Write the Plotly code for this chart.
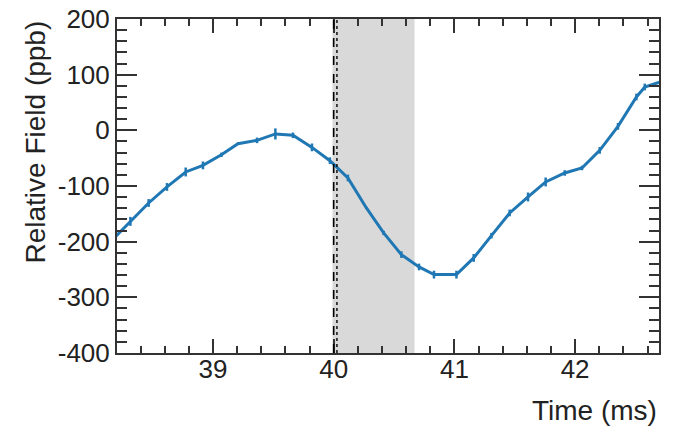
import plotly.graph_objects as go

# ---- data ----
time_ms = [38.165, 38.316, 38.467, 38.619, 38.774, 38.917, 39.070, 39.207, 39.365,
           39.517, 39.663, 39.820, 39.969, 40.118, 40.271, 40.414, 40.561, 40.707,
           40.831, 41.017, 41.160, 41.307, 41.458, 41.610, 41.756, 41.914, 42.057,
           42.204, 42.355, 42.508, 42.577, 42.720]
field_ppb = [-197, -163.5, -130.5, -101.7, -74.8, -63, -44, -24, -18,
             -6.5, -9, -30.6, -54.5, -85.6, -139.4, -184.3, -223.3, -245.4,
             -259.2, -259.2, -229.2, -189.2, -148.4, -119.7, -92.7, -76.6, -67.6,
             -36, 7.1, 59.9, 77.9, 88]
field_err = [6, 8, 7, 7, 8, 7, 4, 2, 5,
             10, 5, 7, 6, 6, 2, 4, 6, 6,
             7, 7, 7, 5, 6, 8, 8, 5, 4,
             6, 6, 6, 6, 6]

t_dashed = 40.0
t_dotted = 40.027
shade_window = [39.99, 40.67]

x_tickvals = [39, 40, 41, 42]
x_ticktext = ["39", "40", "41", "42"]
y_tickvals = [-400, -300, -200, -100, 0, 100, 200]
y_ticktext = ["-400", "-300", "-200", "-100", "0", "100", "200"]

FONT = "Liberation Sans, Arial, sans-serif"
AX = "#333333"
BLUE = "#1f77b4"

fig = go.Figure()
fig.add_trace(go.Scatter(
    x=time_ms, y=field_ppb, mode="lines",
    line=dict(color=BLUE, width=3),
    error_y=dict(type="data", array=field_err, visible=True,
                 color=BLUE, thickness=2.5, width=0),
    showlegend=False,
))

fig.add_shape(type="rect", xref="x", yref="paper",
              x0=shade_window[0], x1=shade_window[1], y0=0, y1=1,
              fillcolor="#d9d9d9", line=dict(width=0), layer="below")
fig.add_shape(type="line", xref="x", yref="paper", x0=t_dashed, x1=t_dashed,
              y0=0, y1=1, line=dict(color="black", width=1.6, dash="dash"))
fig.add_shape(type="line", xref="x", yref="paper", x0=t_dotted, x1=t_dotted,
              y0=0, y1=1, line=dict(color="black", width=1.4, dash="dot"))

fig.update_xaxes(
    range=[38.205, 42.695], tickmode="array", tickvals=x_tickvals, ticktext=x_ticktext,
    ticks="inside", ticklen=14, tickwidth=1.5, tickcolor=AX,
    minor=dict(tickmode="linear", tick0=39, dtick=0.2, ticks="inside",
               ticklen=7, tickwidth=1.5, tickcolor=AX, showgrid=False),
    showline=True, linecolor=AX, linewidth=2, mirror="ticks",
    showgrid=False, zeroline=False, automargin=False, ticklabelstandoff=-8,
    tickfont=dict(family=FONT, size=26, color="#222222"),
)
fig.update_yaxes(
    range=[-400, 200], tickmode="array", tickvals=y_tickvals, ticktext=y_ticktext,
    ticks="inside", ticklen=20, tickwidth=1.5, tickcolor=AX,
    minor=dict(tickmode="linear", tick0=0, dtick=20, ticks="inside",
               ticklen=10, tickwidth=1.5, tickcolor=AX, showgrid=False),
    showline=True, linecolor=AX, linewidth=2, mirror="ticks",
    showgrid=False, zeroline=False, automargin=False,
    tickfont=dict(family=FONT, size=26, color="#222222"),
)

fig.add_annotation(text="Relative Field (ppb)", textangle=-90,
                   xref="paper", yref="paper", x=(35 - 117) / 542, y=1.0,
                   xanchor="center", yanchor="top", showarrow=False,
                   font=dict(family=FONT, size=28, color="#222222"))
fig.add_annotation(text="Time (ms)", xref="paper", yref="paper",
                   x=1.0, y=(353 - 410) / 334, xanchor="right", yanchor="middle",
                   showarrow=False, font=dict(family=FONT, size=28, color="#222222"))
fig.add_annotation(text="(b)", xref="paper", yref="paper",
                   x=(378 - 117) / 542, y=(353 - 442) / 334, xanchor="center",
                   yanchor="middle", showarrow=False,
                   font=dict(family=FONT, size=26, color="#222222"))

fig.update_layout(
    width=674, height=427,
    margin=dict(l=117, r=15, t=19, b=74, autoexpand=False),
    paper_bgcolor="white", plot_bgcolor="white",
)

fig.write_html("out.html", config={"displayModeBar": False},
               post_script="document.body.style.margin='0';"
                           "document.body.style.overflow='hidden';")
